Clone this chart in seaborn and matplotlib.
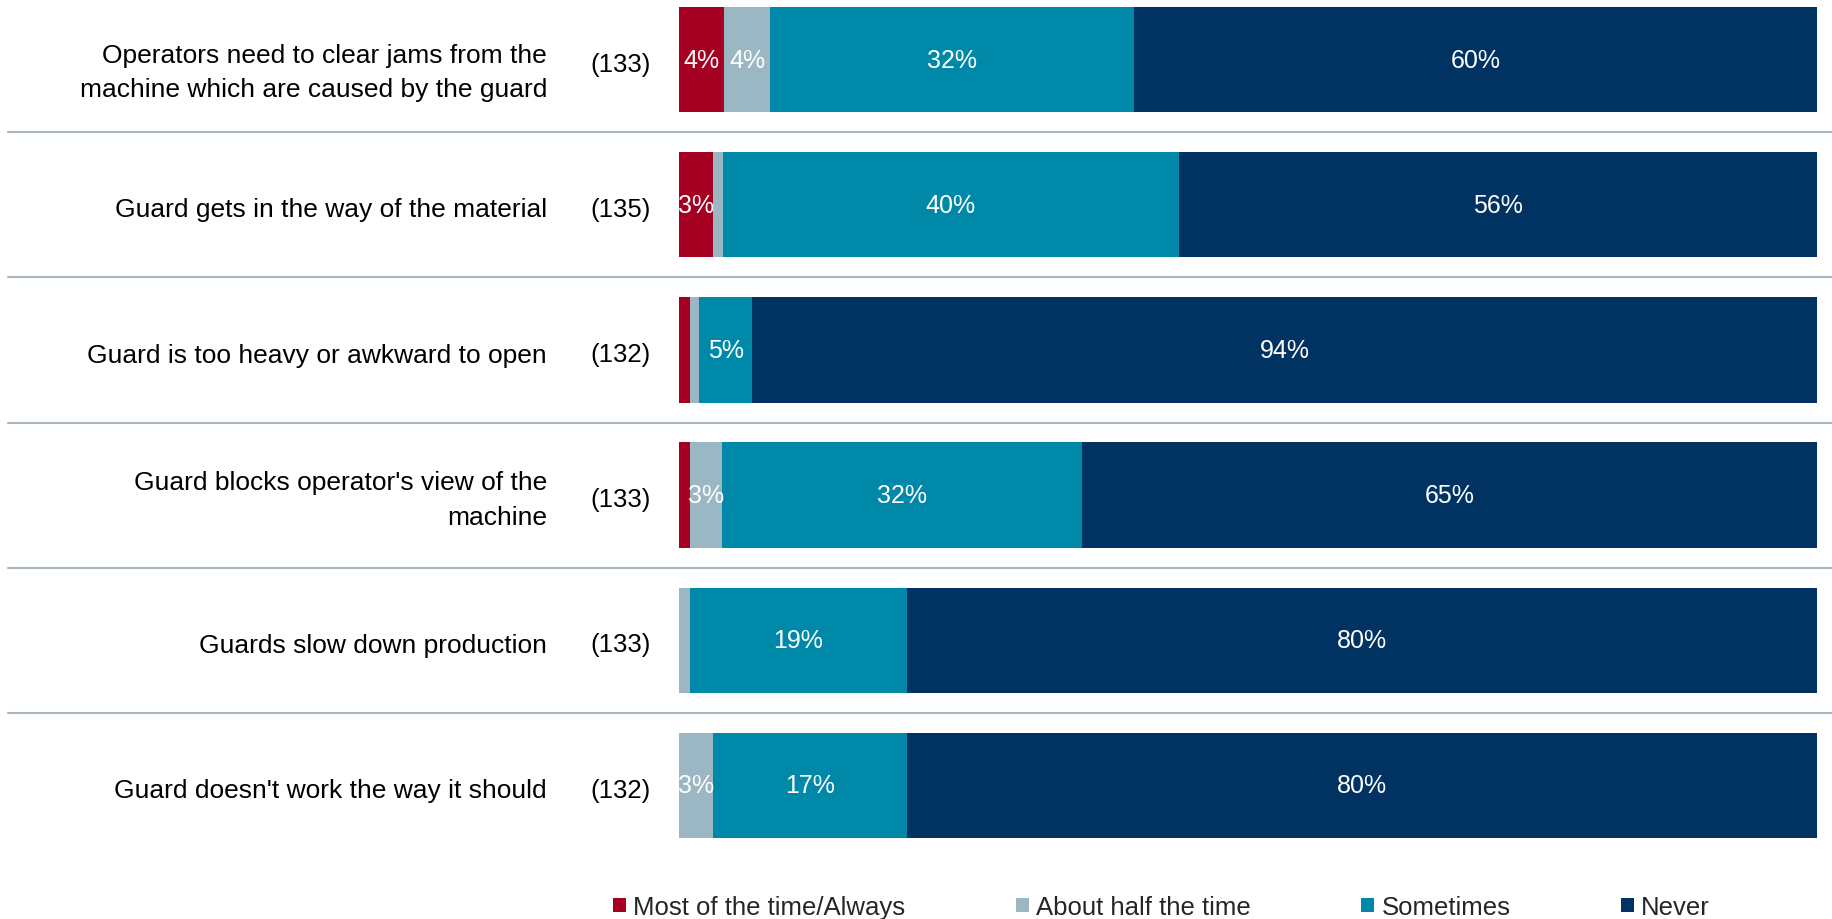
import matplotlib
matplotlib.use("Agg")
import matplotlib.pyplot as plt
import matplotlib.transforms as mtransforms
from matplotlib.patches import Patch
import numpy as np
import pandas as pd
import seaborn as sns

# Survey items (top to bottom) and the number of respondents for each
items = [
    "Operators need to clear jams from the\nmachine which are caused by the guard",
    "Guard gets in the way of the material",
    "Guard is too heavy or awkward to open",
    "Guard blocks operator's view of the\nmachine",
    "Guards slow down production",
    "Guard doesn't work the way it should",
]
counts = ["(133)", "(135)", "(132)", "(133)", "(133)", "(132)"]

# Response shares in percent
responses = ["Most of the time/Always", "About half the time", "Sometimes", "Never"]
most_always = [4.0, 3.0, 1.0, 1.0, 0.0, 0.0]
about_half = [4.0, 0.9, 0.8, 2.8, 1.0, 3.0]
sometimes = [32.0, 40.0, 4.6, 31.6, 19.0, 17.0]
never = [60.0, 56.1, 93.6, 64.6, 80.0, 80.0]

colors = ["#A50021", "#9BB7C4", "#0088A8", "#003362"]
sep_color = "#A7B6C1"

sns.set_theme(style="white")
plt.rcParams["font.family"] = ["Liberation Sans", "DejaVu Sans"]
FS_ITEM = 19
FS = 18.5
FS_BAR = 18

series = [most_always, about_half, sometimes, never]
vals = np.array(series)
cum = np.cumsum(vals, axis=0)

fig = plt.figure(figsize=(18.32, 9.2), dpi=100)
ax = fig.add_axes([0.3706, 0.0880, 0.6212, 0.9033])

BAR_W = 0.725
# Stacked bars: draw cumulative totals from the outermost layer inward
for k in range(len(series) - 1, -1, -1):
    df = pd.DataFrame({"item": items, "value": cum[k]})
    sns.barplot(data=df, y="item", x="value", orient="h", color=colors[k],
                saturation=1, width=BAR_W, ax=ax, linewidth=0)

# Segment labels
for k in range(len(series)):
    for i in range(len(items)):
        v = vals[k, i]
        if v >= 2.5:
            ax.text(cum[k, i] - v / 2, i, f"{v:.0f}%", ha="center", va="center",
                    color="white", fontsize=FS_BAR)

ax.set_xlim(0, 100)
ax.set_ylim(len(items) - 1 + BAR_W / 2, -BAR_W / 2)
ax.set_xlabel("")
ax.set_ylabel("")
ax.set_xticks([])
ax.set_yticks(range(len(items)))
ax.set_yticklabels(items, fontsize=FS_ITEM, color="#000000", linespacing=1.55,
                   multialignment="right")
ax.tick_params(axis="y", length=0, pad=95)
for s in ax.spines.values():
    s.set_visible(False)

# Vertical nudges (points) for the item labels
label_dy = [-3.5, -1.5, -1.5, 2.5, -1.5, -1.5]
for lab, dy in zip(ax.get_yticklabels(), label_dy):
    lab.set_transform(lab.get_transform() +
                      mtransforms.ScaledTranslation(0, dy / 72, fig.dpi_scale_trans))

# Respondent counts
count_shift = mtransforms.ScaledTranslation(0, -3 / 72, fig.dpi_scale_trans)
for i, n in enumerate(counts):
    ax.text(-0.0246, i, n, transform=ax.get_yaxis_transform() + count_shift,
            ha="right", va="center", fontsize=FS, color="#000000")

# Row separators spanning the full width
for i in range(len(items) - 1):
    ax.axhline(i + 0.5, xmin=-0.5896, xmax=1.02, color=sep_color, lw=1.5,
               clip_on=False)

handles = [Patch(facecolor=c, edgecolor="none") for c in colors]
fig.legend(handles, responses, ncol=4, loc="center",
           bbox_to_anchor=(0.634, 0.013), frameon=False, fontsize=FS,
           handlelength=0.5, handleheight=0.5, handletextpad=0.28,
           columnspacing=4.3, borderaxespad=0, borderpad=0)

fig.savefig("out.png", dpi=100)
